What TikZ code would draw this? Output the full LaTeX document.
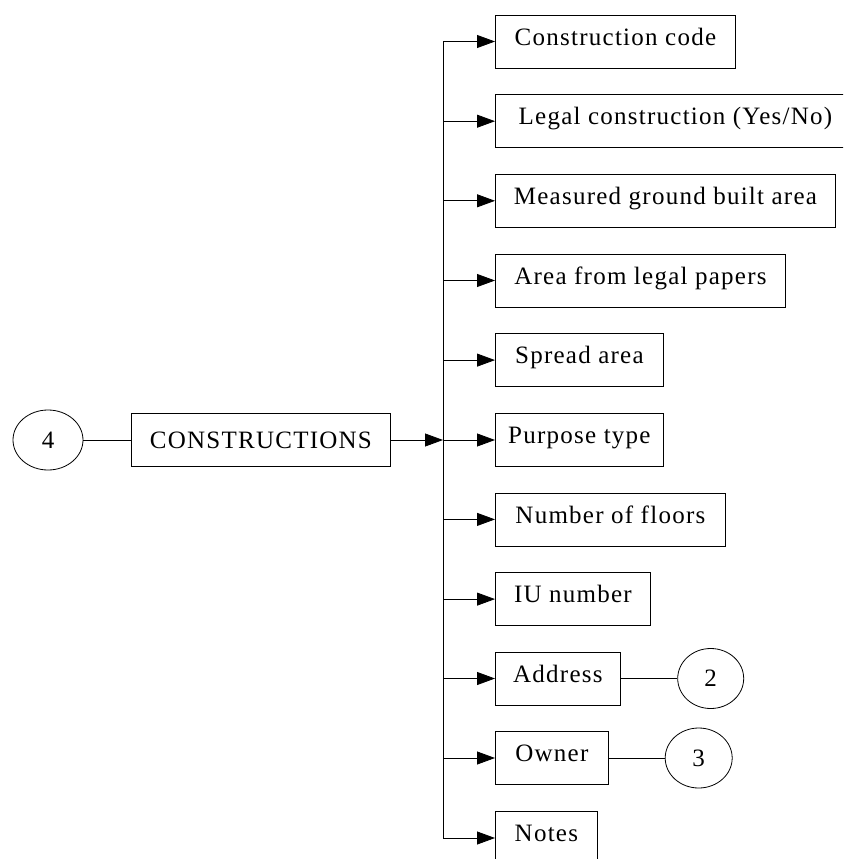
\documentclass[tikz,border=0pt]{standalone}
\usepackage{fontspec}
\setmainfont[LetterSpace=5]{Liberation Serif}
\usetikzlibrary{arrows.meta,shapes.geometric}
\begin{document}
\begin{tikzpicture}[x=1pt,y=-1pt,
  line width=0.8pt,
  txt/.style={font=\fontsize{25}{28}\selectfont},
  mainbox/.style={draw, txt, minimum height=53pt, inner sep=0pt, anchor=west,
    text height=17pt, text depth=0pt},
  box/.style={mainbox, text depth=9.5pt},
  ref/.style={draw, ellipse, txt, minimum height=60pt, inner sep=0pt},
  tip/.style={-{Triangle[length=18pt,width=13pt]}}]
\clip (0,0) rectangle (843,859);

% entity and its reference number
\node[ref, minimum width=70pt] (e4) at (48,440) {4};
\node[mainbox, minimum width=259pt] (main) at (131,440) {CONSTRUCTIONS};
\draw (e4) -- (main);

% attribute boxes
\node[box, minimum width=240pt] (a1)  at (495,41.5)  {Construction code};
\node[box, minimum width=360pt] (a2)  at (495,121.2) {Legal construction (Yes/No)};
\node[box, minimum width=340pt] (a3)  at (495,200.8) {Measured ground built area};
\node[box, minimum width=290pt] (a4)  at (495,280.5) {Area from legal papers};
\node[box, minimum width=168pt] (a5)  at (495,360.1) {Spread area};
\node[box, minimum width=168pt] (a6)  at (495,440) {Purpose type};
\node[box, minimum width=230pt] (a7)  at (495,519.4) {Number of floors};
\node[box, minimum width=155pt] (a8)  at (495,599.1) {IU number};
\node[box, minimum width=125pt] (a9)  at (495,678.5) {Address};
\node[box, minimum width=113pt] (a10) at (495,758) {Owner};
\node[box, minimum width=102pt] (a11) at (495,838) {Notes};

% linked entities
\node[ref, minimum width=66pt] (e2) at (710.7,678.5) {2};
\node[ref, minimum width=67pt] (e3) at (698.7,758) {3};
\draw (a9) -- (e2);
\draw (a10) -- (e3);

% bus coordinates
\foreach \i/\y in {1/41.5,2/121.2,3/200.8,4/280.5,5/360.1,6/440,7/519.4,8/599.1,9/678.5,10/758,11/838}
  \coordinate (b\i) at (443,\y);
\draw (b1) -- (b11);
\draw[tip] (main) -- (b6);
\foreach \i in {1,...,11}
  \draw[tip] (b\i) -- (a\i);
\end{tikzpicture}
\end{document}
